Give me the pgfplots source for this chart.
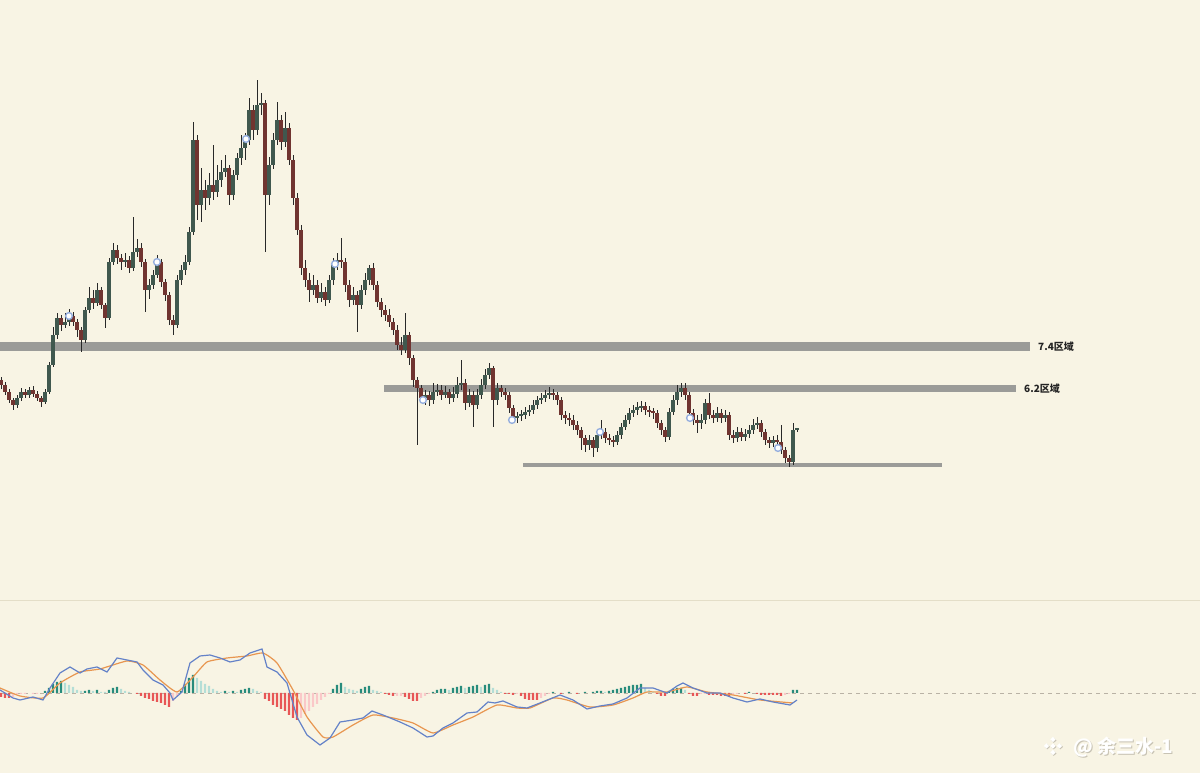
\documentclass[border=0pt]{standalone}
\usepackage{fontspec}
\usepackage{pgfplots}
\usepackage{pgfplotstable}
\pgfplotsset{compat=1.18}
\newfontfamily\cjk{Noto Sans CJK SC}
\definecolor{bg}{RGB}{248,244,228}
\definecolor{band}{RGB}{155,155,152}
\definecolor{upc}{RGB}{64,88,78}
\definecolor{dnc}{RGB}{112,52,48}
\definecolor{wick}{RGB}{40,40,40}
\definecolor{hP}{RGB}{40,140,124}
\definecolor{hp}{RGB}{180,222,214}
\definecolor{hN}{RGB}{232,86,86}
\definecolor{hn}{RGB}{250,200,200}
\definecolor{macdc}{RGB}{100,130,200}
\definecolor{sigc}{RGB}{232,150,80}
\definecolor{sep}{RGB}{228,222,200}
\definecolor{wm}{RGB}{200,195,180}
\definecolor{lbl}{RGB}{35,35,35}
\definecolor{circ}{RGB}{150,175,222}
\definecolor{zl}{RGB}{185,178,165}

\pgfplotstableread{
x o h l c
1 225 228 216 220
5 220 223 210 213
9 213 216 202 205
13 205 207 195 200
17 200 210 197 207
21 207 217 204 213
25 213 216 207 210
29 210 218 207 215
33 215 219 208 211
37 211 214 204 207
41 207 209 198 203
45 203 216 201 213
49 213 243 211 240
53 240 278 238 270
57 270 292 266 287
61 287 290 274 280
65 280 292 277 283
69 283 296 279 289
73 289 293 279 283
77 283 286 268 275
81 275 278 253 265
85 265 298 262 295
89 295 318 292 307
93 307 315 296 302
97 302 322 299 315
101 315 318 296 300
105 300 302 277 287
109 287 347 285 343
113 343 362 340 355
117 355 360 341 347
121 347 351 335 343
125 343 352 338 345
129 345 349 332 337
133 337 388 334 353
137 353 366 348 357
141 357 362 338 343
145 343 346 293 315
149 315 326 306 320
153 320 335 316 330
157 330 350 327 343
161 343 346 318 323
165 323 326 304 310
169 310 313 280 285
173 285 290 270 280
177 280 330 277 325
181 325 340 320 335
185 335 350 330 343
189 343 378 340 373
193 373 483 370 465
197 465 470 385 400
201 400 437 383 415
205 415 425 395 407
209 407 432 400 420
213 420 460 405 413
217 413 440 408 425
221 425 445 418 433
225 433 450 428 437
229 437 440 400 410
233 410 435 405 430
237 430 452 425 447
241 447 470 440 457
245 457 472 445 465
249 465 507 460 495
253 495 500 465 475
257 475 525 470 500
261 500 512 490 502
265 502 505 353 410
269 410 448 400 440
273 440 472 436 465
277 465 503 460 485
281 485 490 455 463
285 463 493 458 477
289 477 482 440 445
293 445 450 400 407
297 407 412 370 375
301 375 380 330 337
305 337 345 318 325
309 325 332 303 315
313 315 330 310 320
317 320 325 302 307
321 307 322 303 313
325 313 318 299 305
329 305 330 302 325
333 325 347 320 340
337 340 352 335 345
341 345 367 337 343
345 343 347 313 320
349 320 325 298 305
353 305 318 300 310
357 310 314 273 300
361 300 320 296 315
365 315 332 310 325
369 325 340 320 337
373 337 342 315 320
377 320 324 298 303
381 303 307 288 295
385 295 300 284 290
389 290 296 278 283
393 283 287 270 275
397 275 280 255 260
401 260 268 250 255
405 255 292 252 270
409 270 273 240 247
413 247 250 218 225
417 225 228 160 217
421 217 220 202 207
425 207 215 200 210
429 210 214 199 205
433 205 222 201 213
437 213 221 209 215
441 215 220 205 210
445 210 219 207 213
449 213 216 201 207
453 207 218 203 211
457 211 228 207 220
461 220 245 215 222
465 222 226 195 202
469 202 216 198 210
473 210 214 178 200
477 200 216 196 210
481 210 226 206 220
485 220 236 216 230
489 230 242 226 237
493 237 239 178 205
497 205 222 200 217
501 217 220 208 213
505 213 217 205 210
509 210 213 192 197
513 197 200 182 187
517 187 193 182 189
521 189 195 184 191
525 190 198 186 193
529 193 200 189 195
533 195 205 191 200
537 200 209 196 205
541 205 212 201 207
545 207 215 203 210
549 210 218 206 212
553 212 216 205 210
557 210 213 200 205
561 205 208 185 190
565 190 194 181 187
569 187 192 179 185
573 185 190 175 180
577 180 184 170 175
581 175 178 155 167
585 167 170 153 160
589 160 170 155 165
593 165 168 148 157
597 157 175 153 170
601 170 185 166 173
605 173 177 162 167
609 167 171 160 165
613 165 169 158 163
617 163 174 160 170
621 170 182 166 178
625 178 190 175 185
629 185 197 181 192
633 192 200 188 195
637 195 203 190 198
641 197 204 193 199
645 199 203 190 195
649 195 199 188 193
653 194 197 186 192
657 192 195 177 182
661 182 185 170 175
665 175 178 163 168
669 168 197 165 193
673 193 210 190 205
677 205 220 200 213
681 213 222 208 217
685 217 222 205 210
689 210 213 186 192
693 192 196 180 185
697 185 190 172 182
701 182 191 176 185
705 185 206 181 202
709 202 212 186 190
713 190 195 182 187
717 187 198 183 192
721 192 196 182 187
725 187 195 183 190
729 190 193 165 170
733 170 175 162 167
737 167 178 163 173
741 173 177 164 168
745 168 176 164 171
749 171 180 167 175
753 175 186 171 180
757 180 188 176 182
761 182 185 168 173
765 173 176 160 165
769 165 168 157 162
773 162 169 158 165
777 165 170 158 163
781 163 180 151 155
785 155 158 142 147
789 147 150 138 143
793 143 182 140 175
797 175 177 173 177
}\candles

\begin{document}
\begin{tikzpicture}
\fill[bg] (0,0) rectangle (1200pt,773pt);
\draw[sep, line width=1.4pt] (0,172.3pt) -- (1200pt,172.3pt);

% ---------------- main price panel ----------------
\begin{axis}[
  at={(0,173pt)}, anchor=south west,
  scale only axis, width=1200pt, height=600pt,
  xmin=0, xmax=1200, ymin=5, ymax=605,
  hide axis, clip=false,
]
% support / resistance bands
\addplot[band, line width=8.5pt, forget plot] coordinates {(0,258.5) (1030,258.5)};
\addplot[band, line width=6.8pt, forget plot] coordinates {(384,216.7) (1016,216.7)};
\addplot[band, line width=4.2pt, forget plot] coordinates {(523,140.3) (942,140.3)};

% wicks: from low to high
\addplot[forget plot, mark=none, draw=wick, line width=0.9pt,
  quiver={u=0, v={\thisrow{h}-\thisrow{l}}}]
  table[x=x, y=l] {\candles};
% up bodies: from open to close
\addplot[forget plot, mark=none, draw=upc, line width=3.3pt,
  restrict expr to domain={\thisrow{c}-\thisrow{o}}{0:1000},
  quiver={u=0, v={\thisrow{c}-\thisrow{o}}}]
  table[x=x, y=o] {\candles};
% down bodies
\addplot[forget plot, mark=none, draw=dnc, line width=3.3pt,
  restrict expr to domain={\thisrow{c}-\thisrow{o}}{-1000:-0.01},
  quiver={u=0, v={\thisrow{c}-\thisrow{o}}}]
  table[x=x, y=o] {\candles};

% signal circles
\addplot[only marks, mark=*, mark size=3.4pt, mark options={fill=white, draw=circ, line width=1.4pt}]
  coordinates {(69,289) (157,343) (246,466) (335,341) (423,205) (512,185) (600,173) (690,187) (778,157)};

\node[anchor=west, inner sep=0pt, text=lbl, font=\cjk\bfseries\fontsize{10}{12}\selectfont] at (axis cs:1038,258.5) {7.4区域};
\node[anchor=west, inner sep=0pt, text=lbl, font=\cjk\bfseries\fontsize{10}{12}\selectfont] at (axis cs:1024,216.7) {6.2区域};
\end{axis}

% ---------------- MACD panel ----------------
\begin{axis}[
  at={(0,0)}, anchor=south west,
  scale only axis, width=1200pt, height=173pt,
  xmin=0, xmax=1200, ymin=-80, ymax=93,
  hide axis, clip=false,
]
\draw[zl, line width=0.7pt, dash pattern=on 4pt off 4pt] (axis cs:0,0) -- (axis cs:1200,0);
\addplot[ybar, bar width=2.2pt, fill=hP, draw=none, forget plot] coordinates {(45,2)(49,5)(53,9)(57,11)(61,12)(85,2)(89,3)(97,3)(109,3)(113,5)(117,6)(181,2)(185,9)(189,15)(193,18)(225,2)(233,2)(241,3)(245,4)(249,5)(333,4)(337,8)(341,10)(361,4)(365,6)(369,7)(433,1)(437,3)(441,4)(445,4)(453,5)(457,6)(461,7)(469,6)(473,7)(477,8)(485,8)(489,9)(553,1)(569,1)(585,1)(593,1)(597,2)(601,2)(609,2)(613,3)(617,4)(621,5)(625,6)(629,7)(633,8)(637,8)(641,9)(669,2)(673,4)(677,5)(681,5)(749,1)(793,3)(797,3)};
\addplot[ybar, bar width=2.2pt, fill=hp, draw=none, forget plot] coordinates {(65,10)(69,8)(73,6)(77,3)(81,2)(93,2)(101,1)(105,1)(121,4)(125,2)(129,1)(197,15)(201,12)(205,9)(209,7)(213,4)(217,2)(221,1)(229,1)(237,1)(253,4)(257,2)(261,1)(345,6)(349,4)(353,3)(357,2)(373,3)(377,2)(381,1)(449,3)(465,5)(481,6)(493,5)(497,3)(501,1)(605,1)(645,5)(649,3)(653,1)(685,3)};
\addplot[ybar, bar width=2.2pt, fill=hN, draw=none, forget plot] coordinates {(1,-4)(5,-5)(9,-5)(137,-1)(141,-3)(145,-5)(149,-6)(153,-8)(157,-9)(161,-10)(165,-12)(169,-14)(265,-6)(269,-8)(273,-12)(277,-14)(281,-16)(285,-18)(289,-22)(293,-25)(297,-27)(385,-1)(389,-2)(393,-3)(405,-4)(409,-6)(413,-8)(417,-8)(505,-1)(509,-1)(513,-2)(521,-3)(525,-6)(529,-7)(533,-7)(537,-7)(561,-1)(577,-1)(657,-1)(661,-3)(665,-3)(689,-1)(693,-3)(697,-3)(709,-2)(713,-2)(717,-2)(721,-3)(725,-3)(729,-3)(745,-1)(757,-1)(761,-2)(765,-2)(769,-2)(773,-2)(777,-2)(781,-3)};
\addplot[ybar, bar width=2.2pt, fill=hn, draw=none, forget plot] coordinates {(13,-4)(17,-1)(21,-1)(25,-1)(33,-1)(37,-1)(173,-8)(177,-3)(301,-25)(305,-21)(309,-18)(313,-14)(317,-11)(321,-7)(325,-4)(329,-1)(397,-3)(401,-3)(421,-5)(425,-3)(429,-1)(517,-1)(541,-5)(545,-3)(549,-1)(701,-1)(705,-1)(733,-2)(737,-1)(785,-2)(789,-1)};
% signal line
\addplot[sigc, line width=1.2pt, smooth, tension=0.3, mark=none] coordinates {(0,5)(20,-3)(43,-5)(60,10)(80,21)(100,24)(127,32)(143,28)(160,13)(177,1)(193,16)(207,31)(227,35)(247,37)(263,40)(277,30)(293,3)(307,-24)(323,-44)(333,-44)(353,-32)(373,-22)(393,-25)(413,-30)(433,-40)(453,-32)(473,-24)(497,-12)(517,-15)(530,-15)(553,-5)(567,-7)(590,-14)(613,-12)(633,-5)(647,1)(667,1)(687,6)(707,1)(733,-2)(760,-7)(793,-10)};
% MACD line
\addplot[macdc, line width=1.2pt, mark=none] coordinates {(0,3)(13,-5)(20,-7)(33,-4)(43,-7)(50,5)(60,20)(70,26)(80,20)(87,24)(97,26)(107,21)(117,35)(127,33)(137,31)(143,23)(153,13)(163,8)(170,0)(173,-7)(182,1)(190,30)(200,37)(210,38)(220,35)(230,31)(240,33)(250,40)(262,44)(267,26)(277,21)(287,10)(297,-24)(307,-42)(320,-52)(330,-45)(340,-29)(353,-27)(363,-25)(372,-18)(383,-22)(400,-29)(413,-35)(427,-44)(433,-43)(443,-35)(453,-30)(467,-20)(477,-19)(488,-9)(495,-10)(503,-8)(517,-14)(527,-15)(540,-10)(550,-6)(560,-2)(573,-7)(587,-16)(600,-13)(613,-11)(627,-5)(640,5)(653,5)(667,0)(677,7)(683,10)(693,5)(707,0)(720,0)(733,-5)(747,-9)(760,-6)(773,-9)(790,-12)(797,-7)};
\end{axis}

% watermark
\begin{scope}[shift={(1053pt,27pt)}]
  \foreach \dx/\dy in {0/6.5, 0/-6.5, 6.5/0, -6.5/0, 0/0} {
    \fill[wm] (\dx pt+0.8pt,\dy pt-3.4pt) -- (\dx pt+3.5pt,\dy pt-0.8pt) -- (\dx pt+0.8pt,\dy pt+1.9pt) -- (\dx pt-1.9pt,\dy pt-0.8pt) -- cycle;
    \fill[white] (\dx pt,\dy pt-2.7pt) -- (\dx pt+2.7pt,\dy pt) -- (\dx pt,\dy pt+2.7pt) -- (\dx pt-2.7pt,\dy pt) -- cycle;
  }
\end{scope}
\node[anchor=west, inner sep=0pt, text=wm, font=\cjk\bfseries\fontsize{19}{22}\selectfont] at (1073.8pt,25.2pt) {@ 余三水-1};
\node[anchor=west, inner sep=0pt, text=white, font=\cjk\bfseries\fontsize{19}{22}\selectfont] at (1073pt,26pt) {@ 余三水-1};

\pgfresetboundingbox
\useasboundingbox (0,0) rectangle (1200pt,773pt);
\end{tikzpicture}
\end{document}
